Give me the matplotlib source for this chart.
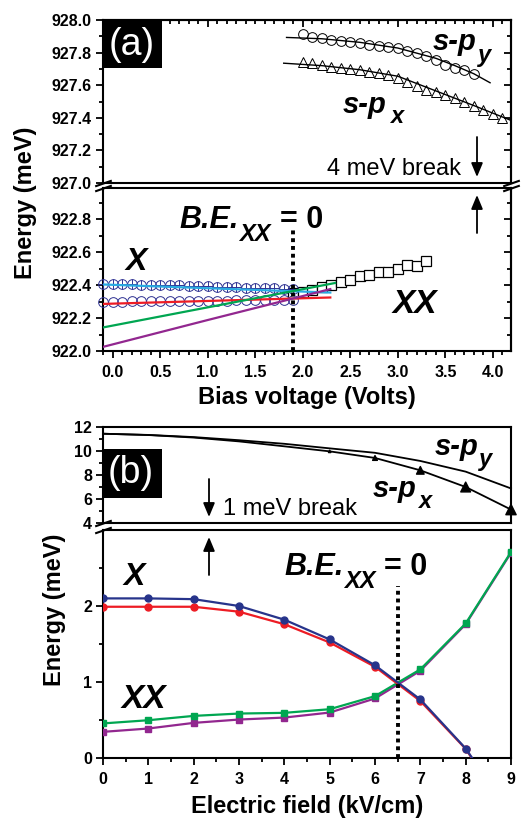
import matplotlib
matplotlib.use('Agg')
import matplotlib.pyplot as plt
from matplotlib.ticker import MultipleLocator, FixedLocator, NullFormatter, FormatStrFormatter
from matplotlib.patches import Rectangle, FancyArrowPatch

W, H = 521, 821
plt.rcParams['font.family'] = ['Liberation Sans', 'DejaVu Sans']

# ---------------- data: panel (a) ----------------
bias_X = [-0.1, 0.0, 0.1, 0.2, 0.3, 0.4, 0.5, 0.6, 0.7, 0.8, 0.9, 1.0,
          1.1, 1.2, 1.3, 1.4, 1.5, 1.6, 1.7, 1.8, 1.9]
X_upper = [922.405, 922.405, 922.405, 922.404, 922.403, 922.403, 922.402, 922.400,
           922.398, 922.396, 922.394, 922.392, 922.390, 922.388, 922.386, 922.384,
           922.382, 922.381, 922.380, 922.378, 922.377]
X_lower = [922.300, 922.300, 922.300, 922.301, 922.301, 922.302, 922.302, 922.303,
           922.303, 922.304, 922.305, 922.305, 922.306, 922.306, 922.307, 922.308,
           922.308, 922.309, 922.310, 922.311, 922.312]
bias_XX = [1.9, 2.0, 2.1, 2.2, 2.3, 2.4, 2.5, 2.6, 2.7, 2.8, 2.9, 3.0, 3.1, 3.2, 3.3]
XX_vals = [922.352, 922.361, 922.372, 922.388, 922.402, 922.418, 922.434, 922.453,
           922.460, 922.478, 922.482, 922.500, 922.522, 922.514, 922.545]
fitXu_x = [-0.1, 2.29]
fitXu_y = [922.404, 922.355]
fitXl_x = [-0.1, 2.29]
fitXl_y = [922.286, 922.325]
fitXXg_x = [-0.1, 1.0, 2.34]
fitXXg_y = [922.143, 922.265, 922.413]
fitXXp_x = [-0.1, 1.0, 2.29]
fitXXp_y = [922.025, 922.188, 922.376]

bias_py = [2.0, 2.1, 2.2, 2.3, 2.4, 2.5, 2.6, 2.7, 2.8, 2.9, 3.0, 3.1, 3.2, 3.3,
           3.4, 3.5, 3.6, 3.7, 3.8]
py_vals = [927.915, 927.897, 927.887, 927.877, 927.873, 927.867, 927.857, 927.846,
           927.840, 927.834, 927.826, 927.811, 927.795, 927.779, 927.754, 927.723,
           927.703, 927.693, 927.668]
bias_px = [2.0, 2.1, 2.2, 2.3, 2.4, 2.5, 2.6, 2.7, 2.8, 2.9, 3.0, 3.1, 3.2, 3.3,
           3.4, 3.5, 3.6, 3.7, 3.8, 3.9, 4.0, 4.1]
px_vals = [927.744, 927.734, 927.723, 927.713, 927.707, 927.699, 927.693, 927.682,
           927.672, 927.662, 927.645, 927.621, 927.594, 927.570, 927.559, 927.539,
           927.522, 927.498, 927.471, 927.447, 927.422, 927.396]
fitpy_x = [1.83, 2.2, 2.6, 3.0, 3.4, 3.6, 3.8, 3.97]
fitpy_y = [927.893, 927.885, 927.863, 927.828, 927.765, 927.72, 927.67, 927.615]
fitpx_x = [1.8, 2.2, 2.6, 3.0, 3.4, 3.8, 4.1, 4.25]
fitpx_y = [927.735, 927.72, 927.695, 927.655, 927.565, 927.475, 927.405, 927.37]
be_a = 1.9
be_a_top = 922.745

# ---------------- data: panel (b) ----------------
field = [0, 1, 2, 3, 4, 5, 6, 7, 8, 9]
X_blue = [2.10, 2.10, 2.09, 2.00, 1.82, 1.56, 1.22, 0.77, 0.125, -0.75]
X_red = [1.99, 1.99, 1.99, 1.925, 1.76, 1.52, 1.20, 0.75, 0.12, -0.78]
XX_green = [0.455, 0.497, 0.554, 0.585, 0.594, 0.642, 0.814, 1.166, 1.77, 2.71]
XX_purple = [0.344, 0.388, 0.462, 0.506, 0.532, 0.598, 0.783, 1.148, 1.76, 2.70]
spy_b = [11.44, 11.34, 11.16, 10.90, 10.60, 10.22, 9.85, 9.17, 8.28, 6.88]
spx_b = [11.44, 11.33, 11.12, 10.80, 10.39, 9.97, 9.42, 8.39, 7.00, 5.12]
be_b = 6.5
be_b_top = 2.26

# ---------------- styles ----------------
BLUE = '#2e3192'
NAVY = '#27348b'
RED = '#ed1c24'
GREEN = '#00a651'
PURPLE = '#92278f'
CYAN = '#29abe2'
SPW = 1.5
TFS = 11.5

fig = plt.figure(figsize=(W / 100, H / 100), dpi=100)


def rect(l, t, r, b):
    return [l / W, 1 - b / H, (r - l) / W, (b - t) / H]


def ftext(px, py, s, **kw):
    return fig.text(px / W, 1 - py / H, s, **kw)


def spines(ax):
    for s in ax.spines.values():
        s.set_linewidth(SPW)


def ticklabels(ax):
    for lab in ax.get_xticklabels() + ax.get_yticklabels():
        lab.set_fontweight('bold')
        lab.set_fontsize(TFS)


axA1 = fig.add_axes(rect(103, 20, 511, 183))
axA2 = fig.add_axes(rect(103, 188, 511, 351))
axB1 = fig.add_axes(rect(103, 427, 511, 523))
axB2 = fig.add_axes(rect(103, 530, 511, 758))

for ax in (axA1, axA2, axB1, axB2):
    spines(ax)
    ax.tick_params(which='both', direction='out', width=1.3, labelsize=TFS, pad=3)
    ax.tick_params(which='major', length=5)
    ax.tick_params(which='minor', length=3)

# ---- panel (a) top ----
axA1.set_xlim(-0.1, 4.19)
axA1.set_ylim(927.0, 928.0)
axA1.yaxis.set_major_locator(FixedLocator([927.0, 927.2, 927.4, 927.6, 927.8, 928.0]))
axA1.yaxis.set_minor_locator(MultipleLocator(0.1))
axA1.yaxis.set_major_formatter(FormatStrFormatter('%.1f'))
axA1.tick_params(axis='x', which='both', bottom=False, labelbottom=False)
secx = axA1.secondary_xaxis('top')
secx.xaxis.set_major_locator(MultipleLocator(1.0))
secx.xaxis.set_minor_locator(MultipleLocator(0.1))
secx.xaxis.set_major_formatter(NullFormatter())
secx.tick_params(which='both', direction='in', width=1.3)
secx.tick_params(which='major', length=5)
secx.tick_params(which='minor', length=3)
secx.spines['top'].set_linewidth(SPW)
secy = axA1.secondary_yaxis('right')
secy.yaxis.set_major_locator(MultipleLocator(0.2))
secy.yaxis.set_minor_locator(MultipleLocator(0.1))
secy.yaxis.set_major_formatter(NullFormatter())
secy.tick_params(which='both', direction='in', width=1.3)
secy.tick_params(which='major', length=5)
secy.tick_params(which='minor', length=3)
secy.spines['right'].set_linewidth(SPW)

axA1.plot(fitpy_x, fitpy_y, color='k', lw=1.0, zorder=3)
axA1.plot(fitpx_x, fitpx_y, color='k', lw=1.0, zorder=3)
axA1.plot(bias_py, py_vals, 'o', mfc='none', mec='k', ms=7, mew=0.7, zorder=2)
axA1.plot(bias_px, px_vals, '^', mfc='none', mec='k', ms=7, mew=0.7, zorder=2)

# ---- panel (a) bottom ----
axA2.set_xlim(-0.1, 4.19)
axA2.set_ylim(922.0, 922.99)
axA2.yaxis.set_major_locator(FixedLocator([922.0, 922.2, 922.4, 922.6, 922.8]))
axA2.yaxis.set_minor_locator(MultipleLocator(0.1))
axA2.yaxis.set_major_formatter(FormatStrFormatter('%.1f'))
axA2.xaxis.set_major_locator(MultipleLocator(0.5))
axA2.xaxis.set_minor_locator(MultipleLocator(0.1))
axA2.xaxis.set_major_formatter(FormatStrFormatter('%.1f'))
axA2.tick_params(axis='x', pad=5)
secy2 = axA2.secondary_yaxis('right')
secy2.yaxis.set_major_locator(MultipleLocator(0.2))
secy2.yaxis.set_minor_locator(MultipleLocator(0.1))
secy2.yaxis.set_major_formatter(NullFormatter())
secy2.tick_params(which='both', direction='in', width=1.3)
secy2.tick_params(which='major', length=5)
secy2.tick_params(which='minor', length=3)
secy2.spines['right'].set_linewidth(SPW)

axA2.plot(bias_XX, XX_vals, 's', mfc='white', mec='k', ms=6.5, mew=0.9, zorder=2)
axA2.plot(bias_X, X_upper, 'o', mfc='none', mec=BLUE, ms=7, mew=0.7, zorder=3, clip_on=False)
axA2.plot(bias_X, X_upper, '+', mec=BLUE, ms=7, mew=0.7, zorder=3, clip_on=False)
axA2.plot(bias_X, X_lower, 'o', mfc='none', mec=BLUE, ms=7, mew=0.7, zorder=3, clip_on=False)
axA2.plot(fitXu_x, fitXu_y, color=CYAN, lw=1.6, zorder=4)
axA2.plot(fitXl_x, fitXl_y, color=RED, lw=1.6, zorder=4)
axA2.plot(fitXXg_x, fitXXg_y, color=GREEN, lw=1.6, zorder=4)
axA2.plot(fitXXp_x, fitXXp_y, color=PURPLE, lw=1.6, zorder=4)
axA2.plot([be_a, be_a], [922.0, be_a_top], color='k', ls=(0, (1, 1)), lw=2.8, zorder=5)

# ---- panel (b) top ----
axB1.set_xlim(0, 9)
axB1.set_ylim(4, 12)
axB1.yaxis.set_major_locator(FixedLocator([4, 6, 8, 10, 12]))
axB1.yaxis.set_minor_locator(MultipleLocator(1))
axB1.tick_params(axis='x', which='both', bottom=False, labelbottom=False)
axB1.plot(field, spy_b, color='k', lw=1.3, zorder=3, clip_on=False)
axB1.plot(field, spx_b, color='k', lw=1.3, zorder=3, clip_on=False)
axB1.scatter(field, spx_b, marker='^', s=[0, 0, 0, 0, 0, 3, 12, 30, 50, 55],
             color='k', zorder=4, clip_on=False)

# ---- panel (b) bottom ----
axB2.set_xlim(0, 9)
axB2.set_ylim(0, 3.0)
axB2.xaxis.set_major_locator(MultipleLocator(1))
axB2.xaxis.set_minor_locator(MultipleLocator(0.5))
axB2.yaxis.set_major_locator(FixedLocator([0, 1, 2]))
axB2.yaxis.set_minor_locator(FixedLocator([0.5, 1.5, 2.5]))
axB2.tick_params(axis='x', pad=5)
axB2.plot(field, XX_purple, '-s', color=PURPLE, lw=1.6, ms=4.5, zorder=3)
axB2.plot(field, XX_green, '-s', color=GREEN, lw=1.6, ms=4.5, zorder=3)
axB2.plot(field, X_red, '-o', color=RED, lw=1.6, ms=5, zorder=3)
axB2.plot(field, X_blue, '-o', color=NAVY, lw=1.6, ms=5, zorder=3)
axB2.plot([be_b, be_b], [0, be_b_top], color='k', ls=(0, (1, 1)), lw=2.8, zorder=5)

for ax in (axA1, axA2, axB1, axB2):
    ticklabels(ax)

# ---- break marks ----
dkw = dict(marker=[(-1, -0.35), (1, 0.35)], markersize=12, linestyle='none',
           color='k', mec='k', mew=1.5, clip_on=False, zorder=10)
axA1.plot([0, 1], [0, 0], transform=axA1.transAxes, **dkw)
axA2.plot([0, 1], [1, 1], transform=axA2.transAxes, **dkw)
axB1.plot([0], [0], transform=axB1.transAxes, **dkw)
axB2.plot([0], [1], transform=axB2.transAxes, **dkw)

# ---- panel label boxes ----
for (l, t, r, b, lab, cx, cy) in [(102, 20, 162, 68, '(a)', 132, 45),
                                   (102, 449, 162, 498, '(b)', 131, 473)]:
    fig.add_artist(Rectangle((l / W, 1 - b / H), (r - l) / W, (b - t) / H,
                             transform=fig.transFigure, facecolor='k',
                             edgecolor='none', zorder=10))
    ftext(cx, cy, lab, color='white', fontsize=27, ha='center', va='center', zorder=11)

# ---- axis labels ----
LBL = dict(fontsize=17, fontweight='bold')
ftext(26, 203, 'Energy (meV)', rotation=90, ha='center', va='center', **LBL)
ftext(54, 610, 'Energy (meV)', rotation=90, ha='center', va='center', **LBL)
ftext(307, 397, 'Bias voltage (Volts)', ha='center', va='center', **LBL)
ftext(307, 806, 'Electric field (kV/cm)', ha='center', va='center', **LBL)

# ---- annotations ----
BI = dict(fontweight='bold', style='italic', ha='left', va='baseline')
ftext(433, 50, 's-p', fontsize=21, **BI)
ftext(478, 62, 'y', fontsize=17, **BI)
ftext(343, 113, 's-p', fontsize=21, **BI)
ftext(390, 123, 'x', fontsize=17, **BI)
ftext(327, 175, '4 meV break', fontsize=17, ha='left', va='baseline')
ftext(179, 228, 'B.E.', fontsize=22, **BI)
ftext(239, 241, 'XX', fontsize=17, **BI)
ftext(280, 228, '= 0', fontsize=22, fontweight='bold', ha='left', va='baseline')
ftext(125, 270, 'X', fontsize=23, **BI)
ftext(393, 313, 'XX', fontsize=24, **BI)

ftext(435, 455, 's-p', fontsize=21, **BI)
ftext(479, 466, 'y', fontsize=17, **BI)
ftext(373, 497, 's-p', fontsize=21, **BI)
ftext(418, 508, 'x', fontsize=17, **BI)
ftext(223, 515, '1 meV break', fontsize=17, ha='left', va='baseline')
ftext(284, 575, 'B.E.', fontsize=22, **BI)
ftext(344, 588, 'XX', fontsize=17, **BI)
ftext(384, 575, '= 0', fontsize=22, fontweight='bold', ha='left', va='baseline')
ftext(123, 585, 'X', fontsize=23, **BI)
ftext(122, 708, 'XX', fontsize=24, **BI)

for (x, y0, y1) in [(477, 137, 177), (477, 233, 195), (209, 479, 517), (209, 575, 537)]:
    arr = FancyArrowPatch((x / W, 1 - y0 / H), (x / W, 1 - y1 / H),
                          transform=fig.transFigure,
                          arrowstyle='-|>,head_length=0.6,head_width=0.25',
                          mutation_scale=14, color='k', lw=1.3,
                          shrinkA=0, shrinkB=0, zorder=12)
    fig.add_artist(arr)

fig.savefig('out.png', dpi=100)
